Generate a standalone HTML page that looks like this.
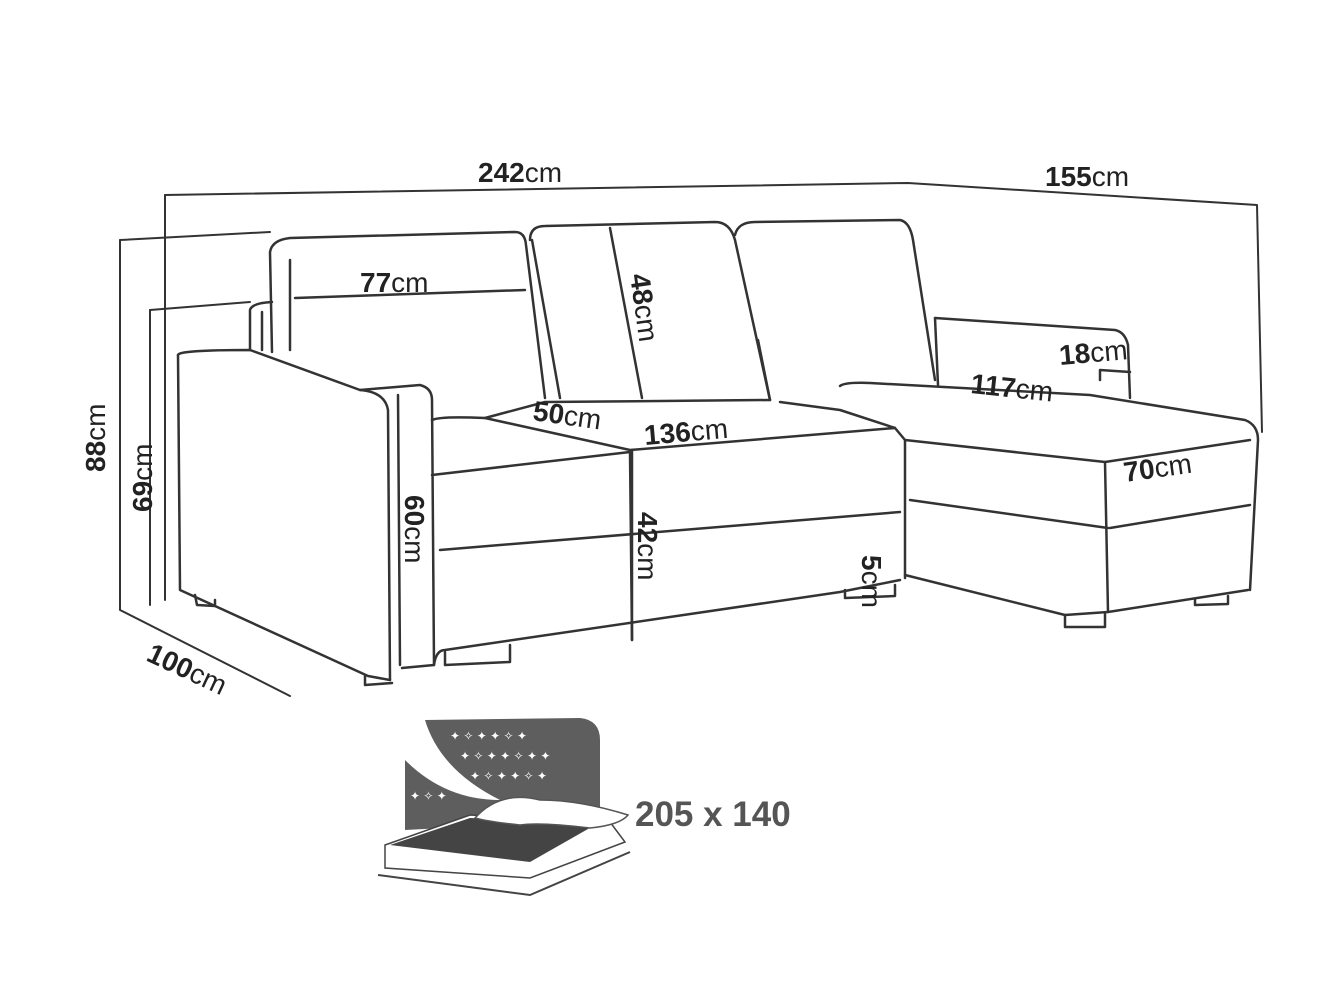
<!DOCTYPE html>
<html><head><meta charset="utf-8"><style>
html,body{margin:0;padding:0;background:#fff}
svg{display:block}
text{font-family:"Liberation Sans",sans-serif;fill:#222}
.b{font-weight:bold}
</style></head><body>
<svg width="1343" height="1007" viewBox="0 0 1343 1007" xmlns="http://www.w3.org/2000/svg">
<g fill="none" stroke="#333" stroke-width="2.5" stroke-linejoin="round" stroke-linecap="round">
<path d="M165 195 L908 183 L1257 205 L1262 432" stroke-width="2"/>
<path d="M165 195 L165 600" stroke-width="2"/>
<path d="M120 240 L270 232" stroke-width="2"/>
<path d="M120 240 L120 610 L290 696" stroke-width="2"/>
<path d="M150 310 L250 302" stroke-width="2"/>
<path d="M150 310 L150 605" stroke-width="2"/>
<path d="M295 298 L525 290" stroke-width="2.5"/>
<path d="M610 228 L642 398" stroke-width="2.5"/>
<path d="M632 450 L632 640" stroke-width="2.5"/>
<path d="M398 395 L400 665" stroke-width="2.5"/>
<path d="M178 355 Q178 350 250 350 L360 390 Q385 392 388 410 L390 680"/>
<path d="M178 355 L180 590 L368 676 L390 680"/>
<path d="M360 390 L420 385 Q432 388 432 400 L434 665 L402 668"/>
<path d="M365 676 L365 685 L392 683"/>
<path d="M250 350 L250 310 Q252 303 272 302"/>
<path d="M262 312 L262 350"/>
<path d="M272 352 L270 252 Q272 240 290 238 L515 232 Q525 232 526 245 L545 398"/>
<path d="M290 260 L290 350"/>
<path d="M530 240 Q530 226 545 226 L715 222 Q730 222 735 240 L770 400"/>
<path d="M735 235 Q738 222 755 222 L900 220 Q910 222 913 240 L935 380"/>
<path d="M532 240 L560 398"/>
<path d="M758 340 L770 400"/>
<path d="M432 420 Q440 416 485 418 L630 450 L895 428 L840 410 L780 402"/>
<path d="M485 418 L545 402 L770 400"/>
<path d="M432 475 L630 452"/>
<path d="M630 452 L632 640"/>
<path d="M440 550 L900 512"/>
<path d="M434 665 Q436 650 445 650 L840 592 L900 580"/>
<path d="M895 428 L905 440 L905 578"/>
<path d="M935 318 L1115 330 Q1125 332 1128 345 L1130 398"/>
<path d="M935 318 L938 385"/>
<path d="M840 386 Q845 382 870 383 L1090 395 L1245 420 Q1258 425 1258 440 L1250 590"/>
<path d="M905 440 L1105 462 L1250 440"/>
<path d="M1105 462 L1108 612"/>
<path d="M1100 380 L1100 370 L1130 372"/>
<path d="M905 575 L1065 615 L1108 612 L1248 590"/>
<path d="M1110 528 L1250 505"/>
<path d="M910 500 L1108 528"/>
<path d="M445 652 L445 665 L510 662 L510 645"/>
<path d="M845 590 L845 598 L895 596 L895 585"/>
<path d="M1065 615 L1065 627 L1105 627 L1105 614"/>
<path d="M1195 600 L1195 605 L1228 604 L1228 596"/>
<path d="M195 595 L197 605 L215 606 L215 600"/>
</g>
<g font-size="28">
<text x="478" y="182"><tspan class="b">242</tspan>cm</text>
<text x="1045" y="186"><tspan class="b">155</tspan>cm</text>
<text x="360" y="292"><tspan class="b">77</tspan>cm</text>
<text transform="translate(630,275) rotate(82)"><tspan class="b">48</tspan>cm</text>
<text transform="translate(1060,365) rotate(-5)"><tspan class="b">18</tspan>cm</text>
<text transform="translate(970,393) rotate(6)"><tspan class="b">117</tspan>cm</text>
<text transform="translate(1125,482) rotate(-8)"><tspan class="b">70</tspan>cm</text>
<text transform="translate(532,420) rotate(8)"><tspan class="b">50</tspan>cm</text>
<text transform="translate(645,445) rotate(-5)"><tspan class="b">136</tspan>cm</text>
<text transform="translate(105,472) rotate(-90)"><tspan class="b">88</tspan>cm</text>
<text transform="translate(152,512) rotate(-90)"><tspan class="b">69</tspan>cm</text>
<text transform="translate(405,495) rotate(90)"><tspan class="b">60</tspan>cm</text>
<text transform="translate(638,512) rotate(90)"><tspan class="b">42</tspan>cm</text>
<text transform="translate(862,555) rotate(90)"><tspan class="b">5</tspan>cm</text>
<text transform="translate(145,660) rotate(25)"><tspan class="b">100</tspan>cm</text>
</g>
<g>
<path d="M425 720 L580 718 Q600 720 600 740 L600 820 L405 830 L405 760 Q445 800 500 800 Q440 770 425 720 Z" fill="#5e5e5e"/>
<g font-size="12">
<text x="450" y="740" style="fill:#fff">✦ ✧ ✦ ✦ ✧ ✦</text>
<text x="460" y="760" style="fill:#fff">✦ ✧ ✦ ✦ ✧ ✦ ✦</text>
<text x="470" y="780" style="fill:#fff">✦ ✧ ✦ ✦ ✧ ✦</text>
<text x="410" y="800" style="fill:#fff">✦ ✧ ✦</text>
</g>
<path d="M385 845 L470 815 L610 822 L625 842 L530 878 L385 868 Z" fill="#fff" stroke="#444" stroke-width="1.5"/>
<path d="M390 845 L470 818 L595 825 L530 862 Z" fill="#444"/>
<path d="M475 818 Q500 790 540 800 Q580 800 628 815 Q620 825 590 828 Q540 822 520 825 Q490 822 475 818 Z" fill="#fff" stroke="#555" stroke-width="1.5"/>
<path d="M378 875 L530 895 L630 852" fill="none" stroke="#444" stroke-width="2"/>
</g>
<text x="635" y="826" font-size="35" class="b" style="fill:#555">205 x 140</text>
</svg>
</body></html>
